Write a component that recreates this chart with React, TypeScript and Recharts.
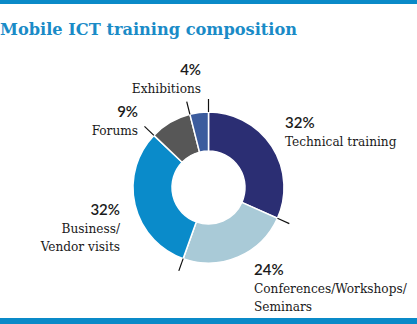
import { PieChart, Pie, Cell } from 'recharts'

const categories = [
  'Technical training',
  'Conferences/Workshops/Seminars',
  'Business/Vendor visits',
  'Forums',
  'Exhibitions',
]
const nameLines = [
  ['Technical training'],
  ['Conferences/Workshops/', 'Seminars'],
  ['Business/', 'Vendor visits'],
  ['Forums'],
  ['Exhibitions'],
]
const shares = [32, 24, 32, 9, 4]
const sliceColors = ['#2b2e73', '#a9cad7', '#0a8bca', '#575757', '#3c5c9d']

// label anchor relative to the pie centre (first line baseline)
const labelLayout = [
  { dx: 76.5, dy: -59.5, anchor: 'start' },
  { dx: 45.5, dy: 87.5, anchor: 'start' },
  { dx: -88.5, dy: 27.5, anchor: 'end' },
  { dx: -70.5, dy: -71, anchor: 'end' },
  { dx: -7.5, dy: -112.5, anchor: 'end' },
]

const data = categories.map((name, i) => ({ name, value: shares[i] }))

const RAD = Math.PI / 180
const BLUE = '#0a8ac8'
const serif = '"DejaVu Serif", serif'
const sans = 'Lato, "Open Sans", sans-serif'

function renderLabel(props: any) {
  const { cx, cy, outerRadius, startAngle, index } = props
  const a = -startAngle * RAD
  const x1 = cx + outerRadius * Math.cos(a)
  const y1 = cy + outerRadius * Math.sin(a)
  const x2 = cx + (outerRadius + 13) * Math.cos(a)
  const y2 = cy + (outerRadius + 13) * Math.sin(a)
  const lay = labelLayout[index]
  const tx = cx + lay.dx
  const ty = cy + lay.dy
  return (
    <g>
      <line x1={x1} y1={y1} x2={x2} y2={y2} stroke="#111" strokeWidth={1.2} />
      <text
        x={tx}
        y={ty}
        textAnchor={lay.anchor}
        fontFamily={sans}
        fontWeight={600}
        fontSize={15}
        fill="#1a1a1a"
      >
        {shares[index]}%
      </text>
      {nameLines[index].map((line, j) => (
        <text
          key={j}
          x={tx}
          y={ty + 18 + j * 17.5}
          textAnchor={lay.anchor}
          fontFamily={serif}
          fontSize={13.5}
          fill="#1a1a1a"
          style={{ fontStretch: 'condensed' }}
        >
          {line}
        </text>
      ))}
    </g>
  )
}

export default function App() {
  return (
    <div
      style={{
        position: 'absolute',
        left: 0,
        top: 0,
        width: 417,
        height: 324,
        background: '#fff',
        overflow: 'hidden',
      }}
    >
      <div style={{ position: 'absolute', left: 0, top: 0, width: 417, height: 4, background: BLUE }} />
      <div
        style={{
          position: 'absolute',
          left: 0,
          top: 19.5,
          fontFamily: serif,
          fontWeight: 600,
          fontSize: 16.2,
          color: '#1a8bc7',
          whiteSpace: 'nowrap',
        }}
      >
        Mobile ICT training composition
      </div>
      <div style={{ position: 'absolute', left: 0, top: 318, width: 417, height: 6, background: BLUE }} />
      <div style={{ position: 'absolute', left: 0, top: 0 }}>
        <PieChart width={417} height={324} margin={{ top: 0, right: 0, bottom: 0, left: 0 }}>
          <Pie
            data={data}
            dataKey="value"
            nameKey="name"
            cx={208.5}
            cy={187.5}
            innerRadius={36.5}
            outerRadius={75.5}
            startAngle={90}
            endAngle={-270}
            stroke="#fff"
            strokeWidth={1.5}
            label={renderLabel}
            labelLine={false}
            isAnimationActive={false}
          >
            {data.map((d, i) => (
              <Cell key={d.name} fill={sliceColors[i]} />
            ))}
          </Pie>
        </PieChart>
      </div>
    </div>
  )
}
